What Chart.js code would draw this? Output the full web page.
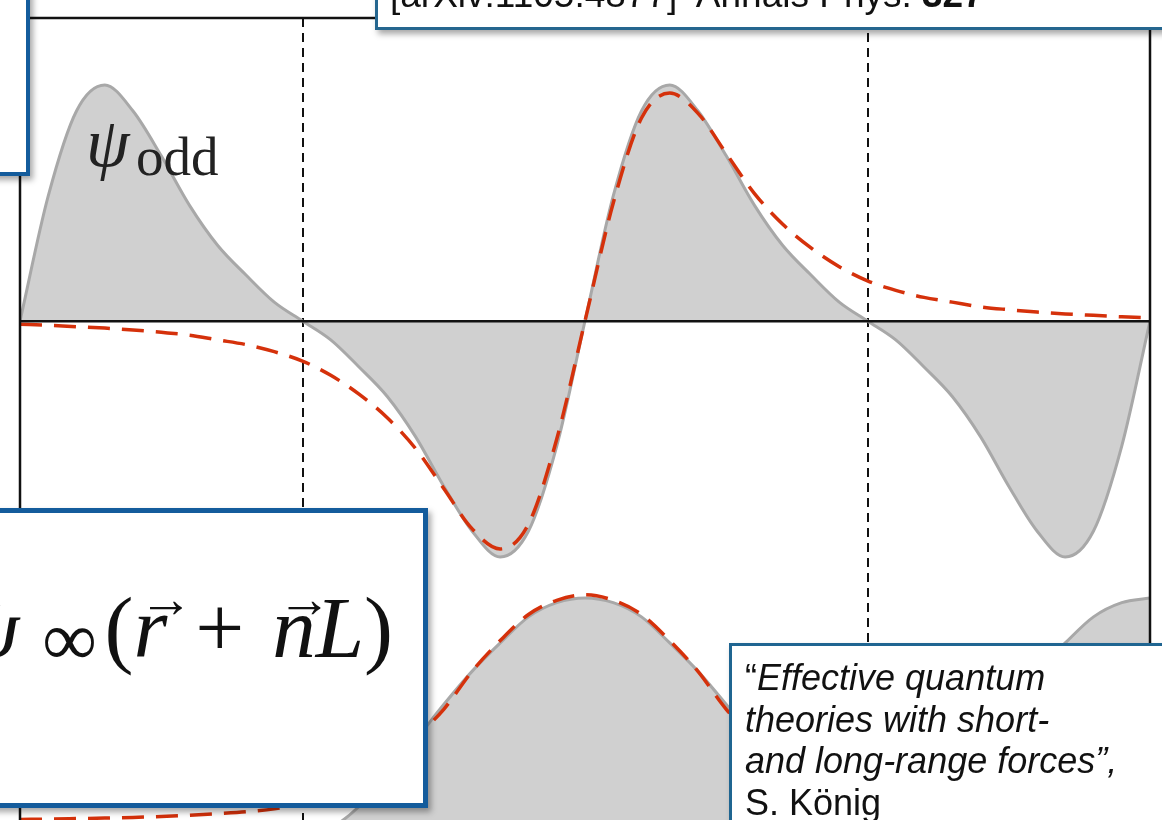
<!DOCTYPE html>
<html>
<head>
<meta charset="utf-8">
<title>psi odd</title>
<script src="https://cdn.jsdelivr.net/npm/chart.js@4.4.1/dist/chart.umd.min.js"></script>
<style>
html, body { margin: 0; padding: 0; background: #fff; overflow: hidden; width: 1162px; height: 820px; }
#chart { position: absolute; left: 0; top: 0; }
.box { position: absolute; box-sizing: border-box; background: #fff; box-shadow: 3px 4px 6px rgba(0,0,0,0.35); }
#boxTL { left: -20px; top: -20px; width: 50px; height: 196px; border: 4px solid #145c9c; }
#boxTR { left: 375px; top: -20px; width: 830px; height: 50px; border: 3px solid #25668f; }
#boxBL { left: -20px; top: 508px; width: 448px; height: 300px; border: 5px solid #145c9c; }
#boxBR { left: 729px; top: 643px; width: 480px; height: 220px; border: 3px solid #1f6591; }
.sans { position: absolute; white-space: nowrap; font-family: "Liberation Sans", Arial, sans-serif; color: #111; }
.serif { position: absolute; white-space: nowrap; font-family: "Liberation Serif", "Times New Roman", serif; color: #222; line-height: 1; }
#ref { left: 390px; top: -24px; font-size: 37px; line-height: 1; }
#title { left: 745px; top: 657px; font-size: 36px; line-height: 41.5px; }
#psiSym { left: 86px; top: 108px; font-size: 70px; font-style: italic; }
#psiSub { left: 136px; top: 129px; font-size: 55px; }
#formula { right: 769px; top: 584px; font-size: 87px; color: #111; }
#formula .sub { font-size: 0.88em; vertical-align: -0.1em; margin-left: 0.3em; margin-right: 0.1em; }
#formula .op { margin: 0 0.32em; }
#formula .vec { position: relative; display: inline-block; }
#formula .vec::after { content: "\2192"; position: absolute; left: 0.1em; top: -0.2em; font-size: 0.62em; font-style: normal; }
</style>
</head>
<body>
<canvas id="chart" width="1162" height="820"></canvas>

<div class="box" id="boxTL"></div>
<div class="box" id="boxTR"></div>
<div class="sans" id="ref">[arXiv:1105.4877]&nbsp; Annals Phys. <b>327</b></div>

<div class="serif" id="psiSym">ψ</div>
<div class="serif" id="psiSub">odd</div>

<div class="box" id="boxBL"></div>
<div class="serif" id="formula"><i>ψ</i><span class="sub">∞</span>(<span class="vec"><i>r</i></span><span class="op">+</span><span class="vec"><i>n</i></span><i>L</i>)</div>

<div class="box" id="boxBR"></div>
<div class="sans" id="title">“<i>Effective quantum<br>theories with short-<br>and long-range forces”,</i><br>S. König</div>

<script>
// position inside the periodic box, in units of L (centres at -1, 0, 1)
var cellPos = [-1, -0.95, -0.9, -0.85, -0.8, -0.75, -0.7, -0.65, -0.6, -0.55, -0.5,
               -0.45, -0.4, -0.35, -0.3, -0.25, -0.2, -0.15, -0.1, -0.05, 0,
               0.05, 0.1, 0.15, 0.2, 0.25, 0.3, 0.35, 0.4, 0.45, 0.5,
               0.55, 0.6, 0.65, 0.7, 0.75, 0.8, 0.85, 0.9, 0.95, 1];

// upper plot: periodic odd wave function (grey) and single infinite-volume one (red)
var psiOdd = [0, 0.53, 0.89, 1.0, 0.89, 0.70, 0.49, 0.32, 0.195, 0.08, 0,
              -0.08, -0.195, -0.32, -0.49, -0.70, -0.89, -1.0, -0.89, -0.53, 0,
              0.53, 0.89, 1.0, 0.89, 0.70, 0.49, 0.32, 0.195, 0.08, 0,
              -0.08, -0.195, -0.32, -0.49, -0.70, -0.89, -1.0, -0.89, -0.53, 0];
var psiInfOdd = [-0.014, -0.018, -0.024, -0.03, -0.038, -0.048, -0.06, -0.08, -0.10, -0.13, -0.17,
                 -0.23, -0.31, -0.41, -0.54, -0.71, -0.88, -0.966, -0.86, -0.5, 0,
                 0.5, 0.86, 0.966, 0.88, 0.71, 0.54, 0.41, 0.31, 0.23, 0.17,
                 0.13, 0.10, 0.08, 0.06, 0.048, 0.038, 0.03, 0.024, 0.018, 0.014];

// lower plot: grey even wave function (no hump visible on the left) and single one (red)
var psiEven = [0, 0, 0, 0, 0, 0, 0, 0, 0, 0, 0,
               0.03, 0.12, 0.26, 0.40, 0.55, 0.69, 0.81, 0.92, 0.98, 1.0,
               0.98, 0.92, 0.81, 0.69, 0.55, 0.40, 0.26, 0.14, 0.05, 0,
               0.05, 0.14, 0.26, 0.40, 0.55, 0.69, 0.81, 0.92, 0.98, 1.0];
var psiInfEven = [0.065, 0.067, 0.069, 0.071, 0.074, 0.078, 0.083, 0.09, 0.098, 0.11, 0.13,
                  0.16, 0.22, 0.30, 0.41, 0.53, 0.69, 0.82, 0.93, 0.99, 1.013,
                  0.99, 0.93, 0.82, 0.69, 0.53, 0.41, 0.30, 0.22, 0.16, 0.13,
                  0.11, 0.098, 0.09, 0.083, 0.078, 0.074, 0.071, 0.069, 0.067, 0.065];

// dashed lines mark the box boundaries
var boundaries = [-0.5, 0.5];

function points(values) {
    return cellPos.map(function (x, i) { return { x: x, y: values[i] }; });
}

var red = '#d5310b';
var greyLine = '#a8a8a8';
var greyFill = '#d0d0d0';

// black frame on left, top and right of the plot
var framePlugin = {
    id: 'frame',
    afterDatasetsDraw: function (chart) {
        var a = chart.chartArea, c = chart.ctx;
        c.save();
        c.strokeStyle = '#111';
        c.lineWidth = 2.5;
        c.beginPath();
        c.moveTo(a.left, a.bottom + 5);
        c.lineTo(a.left, a.top);
        c.lineTo(a.right, a.top);
        c.lineTo(a.right, a.bottom + 5);
        c.stroke();
        c.restore();
    }
};

var ctx = document.getElementById('chart').getContext('2d');
var chart = new Chart(ctx, {
    type: 'line',
    data: {
        datasets: [
            { data: points(psiInfOdd), yAxisID: 'yUp', borderColor: red, borderWidth: 3.5, borderDash: [22, 12], fill: false },
            { data: points(psiInfEven), yAxisID: 'yLow', borderColor: red, borderWidth: 3.5, borderDash: [22, 12], fill: false },
            { data: points(psiOdd), yAxisID: 'yUp', borderColor: greyLine, borderWidth: 3, backgroundColor: greyFill, fill: 'origin' },
            { data: points(psiEven), yAxisID: 'yLow', borderColor: greyLine, borderWidth: 3, backgroundColor: greyFill, fill: 'origin' }
        ]
    },
    options: {
        responsive: false,
        animation: false,
        layout: { padding: { left: 20, top: 18, right: 12, bottom: 0 } },
        elements: { point: { radius: 0 }, line: { cubicInterpolationMode: 'monotone' } },
        plugins: { legend: { display: false }, tooltip: { enabled: false } },
        scales: {
            x: {
                type: 'linear', min: -1, max: 1,
                ticks: { display: false, stepSize: 0.5 },
                grid: {
                    drawTicks: false, lineWidth: 2,
                    color: function (c) { return boundaries.indexOf(c.tick.value) >= 0 ? '#111' : 'rgba(0,0,0,0)'; }
                },
                border: { display: false, dash: [9, 6] }
            },
            // stacked left axes: the one listed last ends up on top
            yLow: {
                type: 'linear', position: 'left', stack: 'psi', stackWeight: 242,
                min: 0.063, max: 1.084,
                ticks: { display: false },
                grid: { display: false, drawTicks: false },
                border: { display: false }
            },
            yUp: {
                type: 'linear', position: 'left', stack: 'psi', stackWeight: 560,
                min: -1.089, max: 1.284,
                ticks: { display: false, stepSize: 0.5 },
                grid: {
                    drawTicks: false, lineWidth: 2.5, z: 1,
                    color: function (c) { return c.tick.value === 0 ? '#111' : 'rgba(0,0,0,0)'; }
                },
                border: { display: false }
            }
        }
    },
    plugins: [framePlugin]
});
</script>
</body>
</html>
